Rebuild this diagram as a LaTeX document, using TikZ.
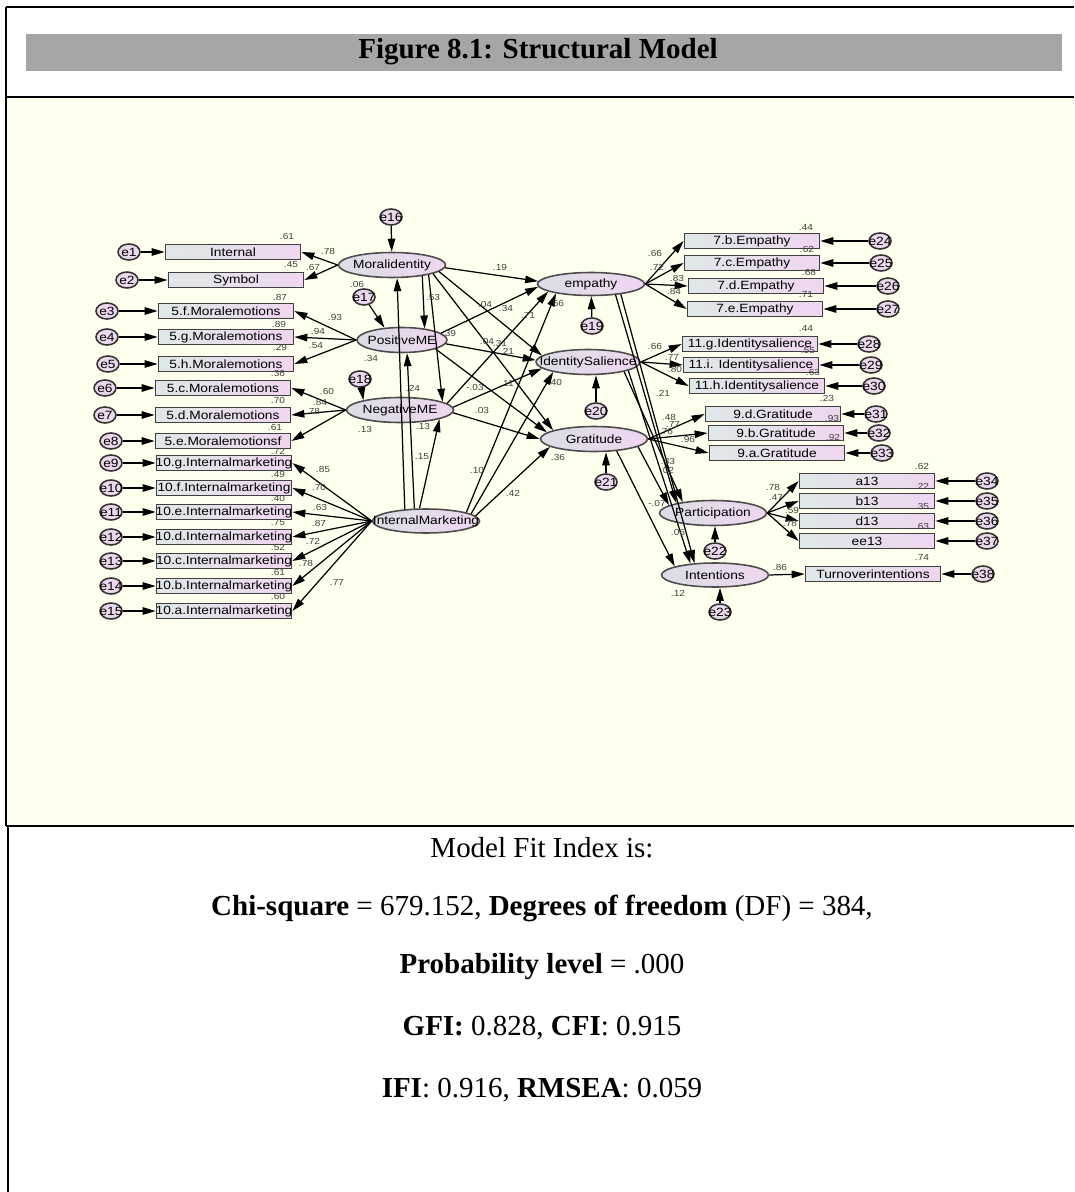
\documentclass[tikz,border=0pt]{standalone}
\usepackage{fontspec}
\setmainfont{Liberation Serif}
\newfontfamily\dfont[FakeStretch=1.15]{Liberation Sans}
\usetikzlibrary{arrows.meta,shapes.geometric}
\newcommand{\lblfont}{\fontsize{6.8}{8}\dfont}
\newcommand{\nrfont}{\fontsize{5}{6}\dfont}
\newcommand{\zw}[1]{\makebox[0pt]{#1}}
\definecolor{bgcream}{RGB}{255,255,238}
\definecolor{bargray}{RGB}{166,166,166}
\definecolor{boxl}{RGB}{222,232,232}
\definecolor{boxr}{RGB}{240,214,240}
\definecolor{latl}{RGB}{218,222,228}
\definecolor{latr}{RGB}{240,214,240}
\definecolor{errc}{RGB}{236,216,236}

\begin{document}
\begin{tikzpicture}[x=0.02cm,y=-0.02cm,>={Triangle[length=2.6mm,width=1.5mm]},line width=0.7pt]
\tikzstyle{ind}=[draw=black!75,line width=1pt,left color=boxl,right color=boxr,minimum width=2.7cm,minimum height=0.3cm,inner sep=0pt,font=\lblfont]
\tikzstyle{lat}=[ellipse,draw=black!70,line width=0.9pt,left color=latl,right color=latr,minimum width=2.14cm,minimum height=0.5cm,inner sep=0pt,font=\lblfont]
\tikzstyle{err}=[ellipse,draw=black!80,line width=0.9pt,fill=errc,minimum width=0.44cm,minimum height=0.32cm,inner sep=0pt,font=\lblfont]
\tikzstyle{num}=[font=\nrfont,text=black!75,inner sep=0pt]
\tikzstyle{fit}=[font=\fontsize{16.5}{20}\selectfont,inner sep=0pt]
\useasboundingbox (0,0) rectangle (1074,1192);
% page frame
\fill[white] (0,0) rectangle (1074,1192);
\fill[bgcream] (6,97) rectangle (1074,826);
\fill[bargray] (26,34) rectangle (1062,71);
\draw[line width=1pt] (6,7) -- (1074,7);
\draw[line width=1pt] (6,7) -- (6,826);
\draw[line width=1.4pt] (6,97) -- (1074,97);
\draw[line width=1.4pt] (6,826) -- (1074,826);
\draw[line width=0.8pt] (8,826) -- (8,1192);
\node[fit,font=\fontsize{16.5}{20}\selectfont\bfseries] (ttl) at (538,52) {Figure 8.1: Structural Model};

% latent variables
\node[lat] (mi) at (392,265) {\zw{Moralidentity}};
\node[lat,minimum width=1.8cm] (pme) at (402,340) {\zw{PositiveME}};
\node[lat] (nme) at (400,410) {\zw{NegativeME}};
\node[lat,minimum height=0.48cm] (im) at (426,521) {\zw{InternalMarketing}};
\node[lat,minimum height=0.46cm] (emp) at (591,284) {\zw{empathy}};
\node[lat,minimum width=2.08cm] (ids) at (588,362) {\zw{IdentitySalience}};
\node[lat] (grat) at (594,439) {\zw{Gratitude}};
\node[lat] (part) at (713,513) {\zw{Participation}};
\node[lat,minimum height=0.48cm] (inten) at (715,575) {\zw{Intentions}};

% left indicators
\foreach \i/\bx/\by/\ex/\txt in {1/233/252/129/Internal,2/236/280/127/Symbol,
  3/226/311/107/5.f.Moralemotions,4/226/337/107/5.g.Moralemotions,5/226/364/108/5.h.Moralemotions,
  6/223/388/105/5.c.Moralemotions,7/223/415/105/5.d.Moralemotions,8/223/441/111/5.e.Moralemotionsf,
  9/224/463/111/10.g.Internalmarketing,10/224/488/111/10.f.Internalmarketing,
  11/224/512/111/10.e.Internalmarketing,12/224/537/111/10.d.Internalmarketing,
  13/224/561/111/10.c.Internalmarketing,14/224/586/111/10.b.Internalmarketing,
  15/224/611/111/10.a.Internalmarketing}{
  \node[ind] (v\i) at (\bx,\by) {\zw{\txt}};
  \node[err] (e\i) at (\ex,\by) {\zw{e\i}};
  \draw[->] (e\i) -- (v\i);
}
\foreach \s/\i in {mi/1,mi/2,pme/3,pme/4,pme/5,nme/6,nme/7,nme/8,im/9,im/10,im/11,im/12,im/13,im/14,im/15}
  \draw[->] (\s.west) -- (v\i.east);

% right indicators
\foreach \i/\bx/\by/\ex/\txt in {24/752/241/880/7.b.Empathy,25/752/263/881/7.c.Empathy,
  26/756/286/888/7.d.Empathy,27/755/309/888/7.e.Empathy,
  28/750/344/869/11.g.Identitysalience,29/751/365/871/11.i. Identitysalience,
  30/757/386/874/11.h.Identitysalience,31/773/414/876/9.d.Gratitude,
  32/776/433/879/9.b.Gratitude,33/777/453/882/9.a.Gratitude,
  34/867/481/987/a13,35/867/501/987/b13,36/867/521/987/d13,37/867/541/987/ee13,
  38/873/574/983/Turnoverintentions}{
  \node[ind] (v\i) at (\bx,\by) {\zw{\txt}};
  \node[err] (e\i) at (\ex,\by) {\zw{e\i}};
  \draw[->] (e\i) -- (v\i);
}
\foreach \s/\i in {emp/24,emp/25,emp/26,emp/27,ids/28,ids/29,ids/30,grat/31,grat/32,grat/33,
  part/34,part/35,part/36,part/37,inten/38}
  \draw[->] (\s.east) -- (v\i.west);

% residuals of latents
\node[err] (e16) at (391,217) {\zw{e16}};
\node[err] (e17) at (364,297) {\zw{e17}};
\node[err] (e18) at (360,379) {\zw{e18}};
\node[err] (e19) at (592,326) {\zw{e19}};
\node[err] (e20) at (596,411) {\zw{e20}};
\node[err] (e21) at (606,482) {\zw{e21}};
\node[err] (e22) at (715,551) {\zw{e22}};
\node[err] (e23) at (720,612) {\zw{e23}};
\draw[->] (e16) -- (mi);
\draw[->] (e17) -- (pme.145);
\draw[->] (e18) -- (nme.165);
\draw[->] (e19) -- (emp);
\draw[->] (e20) -- (e20 |- ids.south);
\draw[->] (e21) -- (e21 |- grat.south);
\draw[->] (e22) -- (e22 |- part.south);
\draw[->] (e23) -- (e23 |- inten.south);

% structural paths
\draw[->] (im.151) -- (mi.-69);
\draw[->] (im.133) -- (pme.-69);
\draw[->] (im.117) -- (nme.-13);
\draw[->] (mi.-20) -- (pme.27);
\draw[->] (mi.-15) -- (nme.11);
\draw[->] (mi.-3) -- (emp.177);
\draw[->] (mi.-8) -- (ids.172);
\draw[->] (mi.-12) -- (grat.168);
\draw[->] (pme.10) -- (emp.183);
\draw[->] (pme.-5) -- (ids.178);
\draw[->] (pme.-15) -- (grat.172);
\draw[->] (nme.8) -- (emp.190);
\draw[->] (nme.3) -- (ids.188);
\draw[->] (nme.-3) -- (grat.180);
\draw[->] (im.12) -- (emp.195);
\draw[->] (im.9) -- (ids.196);
\draw[->] (im.6) -- (grat.190);
\draw[->] (emp.-24) -- (part.165);
\draw[->] (emp.-19) -- (inten.150);
\draw[->] (ids.-15) -- (part.160);
\draw[->] (ids.-12) -- (inten.155);
\draw[->] (grat.-10) -- (part.170);
\draw[->] (grat.-28) -- (inten.168);

% estimates
\foreach \a/\b/\t [count=\k] in {287/236/.61,291/265/.45,280/297/.87,279/324/.89,280/347/.29,
  278/373/.36,278/400/.70,275/427/.61,278/451/.72,278/474/.49,278/498/.40,278/523/.75,
  278/547/.52,278/572/.61,278/596/.60,
  328/251/.78,313/267/.67,335/317/.93,318/331/.94,316/346/.54,327/391/.60,320/402/.84,
  313/411/.78,323/469/.85,319/487/.70,320/507/.63,319/523/.87,313/541/.72,306/563/.78,337/582/.77,
  357/284/.06,433/297/.53,500/267/.19,485/304/.04,506/308/.34,449/333/.39,528/315/.71,
  557/303/.66,487/341/.04,500/343/.31,507/351/.21,475/387/-.03,507/383/.11,555/382/.40,
  482/410/.03,413/388/.24,365/429/.13,423/426/.13,422/457/.15,477/470/.10,513/493/.42,
  371/358/.34,558/457/.36,663/393/.21,669/417/.48,673/424/.77,666/431/.76,688/439/.96,
  668/461/.33,667/470/.02,657/503/-.07,678/532/.06,678/593/.12,780/567/.86,
  773/487/.78,776/497/.47,792/510/.59,790/523/.78,
  655/253/.66,657/267/.72,677/278/.83,674/291/.84,655/346/.66,672/357/.77,675/369/.80,
  806/227/.44,807/249/.62,809/272/.68,806/294/.71,806/328/.44,808/351/.55,813/372/.63,
  827/398/.23,832/418/.93,833/437/.92,922/466/.62,922/486/.22,922/506/.35,922/526/.63,922/557/.74}
  \node[num] (p\k) at (\a,\b) {\t};

% fit indices
\node[fit] (f1) at (542,848) {Model Fit Index is:};
\node[fit] (f2) at (542,908) {\textbf{Chi-square} = 679.152, \textbf{Degrees of freedom} (DF) = 384,};
\node[fit] (f3) at (542,967) {\textbf{Probability level} = .000};
\node[fit] (f4) at (542,1028) {\textbf{GFI:} 0.828, \textbf{CFI}: 0.915};
\node[fit] (f5) at (542,1090) {\textbf{IFI}: 0.916, \textbf{RMSEA}: 0.059};
\end{tikzpicture}
\end{document}
